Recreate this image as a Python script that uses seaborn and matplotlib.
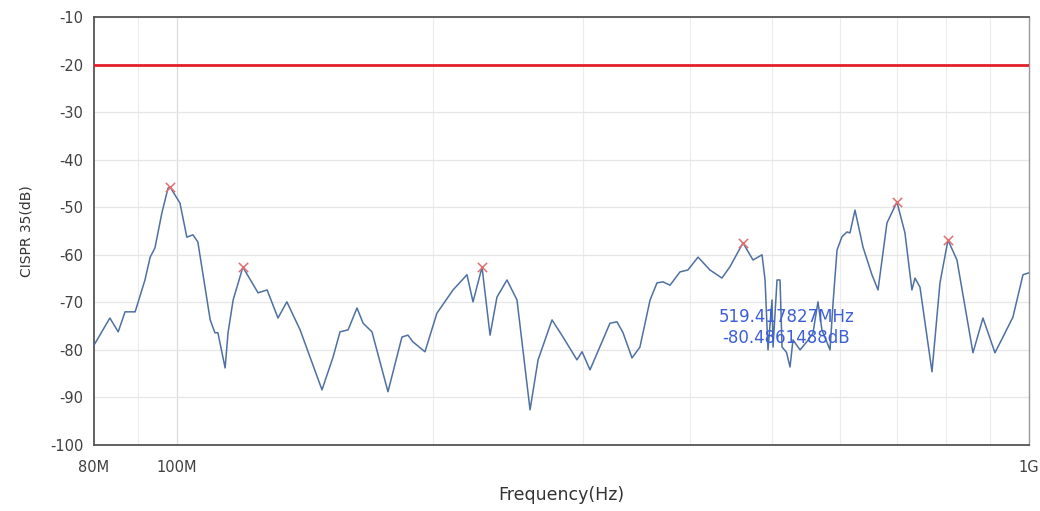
import matplotlib

matplotlib.use("Agg")
import matplotlib.pyplot as plt
import numpy as np
import pandas as pd
import seaborn as sns
from matplotlib.ticker import FixedLocator, NullFormatter

# ---- Data ----------------------------------------------------------------- #
freq_mhz = [
    80.0, 83.5, 85.4, 87.0, 89.4, 91.8, 93.1, 94.3, 96.1, 97.7, 98.2, 100.9,
    102.8, 104.5, 105.9, 109.5, 110.9, 111.8, 114.0, 114.9, 116.5, 119.6,
    124.6, 127.7, 131.5, 134.7, 139.6, 148.1, 152.6, 155.5, 158.9, 162.8,
    165.5, 169.5, 177.0, 183.8, 186.8, 189.3, 195.6, 202.0, 211.0, 219.1,
    222.7, 228.2, 233.2, 237.6, 244.1, 250.8, 259.8, 265.5, 275.7, 284.0,
    294.9, 299.0, 305.5, 322.4, 328.6, 334.0, 342.2, 349.6, 359.3, 366.1,
    372.1, 379.2, 389.6, 398.0, 409.0, 422.4, 436.3, 445.9, 461.8, 474.5,
    486.2, 490.2, 494.1, 499.5, 500.9, 506.3, 510.4, 513.2, 519.4, 524.4,
    528.6, 538.8, 550.4, 557.9, 565.5, 571.6, 584.2, 589.0, 595.4, 603.4,
    611.6, 616.6, 625.0, 638.7, 654.3, 665.1, 681.4, 700.0, 715.3, 728.9,
    735.0, 744.9, 769.5, 786.3, 803.5, 823.2, 859.6, 883.1, 912.2, 932.1,
    957.6, 983.9, 1000.0,
]
level_db = [
    -79.0, -73.3, -76.2, -72.0, -72.0, -65.3, -60.5, -58.6, -51.2, -46.0,
    -45.7, -49.1, -56.3, -55.8, -57.3, -73.7, -76.4, -76.4, -83.8, -76.4,
    -69.5, -62.6, -68.0, -67.4, -73.3, -69.9, -75.8, -88.4, -81.5, -76.2,
    -75.8, -71.2, -74.4, -76.2, -88.8, -77.3, -76.9, -78.3, -80.4, -72.3,
    -67.4, -64.2, -69.9, -62.6, -76.9, -68.9, -65.3, -69.5, -92.6, -82.1,
    -73.7, -77.3, -82.1, -80.4, -84.2, -74.4, -74.1, -76.4, -81.7, -79.4,
    -69.5, -65.9, -65.7, -66.4, -63.6, -63.2, -60.5, -63.2, -64.9, -62.5,
    -57.5, -61.1, -60.0, -65.3, -80.0, -69.5, -79.4, -65.3, -65.3, -79.4,
    -80.5, -83.6, -77.9, -80.0, -78.0, -76.5, -69.9, -75.8, -80.0, -70.2,
    -59.0, -56.2, -55.2, -55.4, -50.6, -58.4, -64.2, -67.4, -53.3, -48.9,
    -55.4, -67.4, -64.9, -66.8, -84.6, -65.9, -56.9, -61.1, -80.6, -73.3,
    -80.6, -77.3, -73.1, -64.2, -63.8,
]

peak_mhz = [98.2, 119.6, 228.2, 461.8, 700.0, 803.5]
peak_db = [-45.7, -62.6, -62.6, -57.5, -48.9, -56.9]

limit_db = -20
marker_mhz = 519.41782
marker_db = -80.4861488
marker_text = "519.417827MHz\n-80.4861488dB"

x_ticks_hz = [80e6, 100e6, 1e9]
x_tick_labels = ["80M", "100M", "1G"]
y_ticks = list(range(-100, 0, 10))

trace = pd.DataFrame({"freq": np.array(freq_mhz) * 1e6, "level": level_db})
peaks = pd.DataFrame({"freq": np.array(peak_mhz) * 1e6, "level": peak_db})

# ---- Plot ------------------------------------------------------------------ #
sns.set_theme(style="white")
plt.rcParams["font.family"] = ["DejaVu Sans"]

fig = plt.figure(figsize=(10.4, 5.11), dpi=100)
ax = fig.add_axes([0.0904, 0.1292, 0.8990, 0.8375])

ax.set_xscale("log")
ax.set_xlim(80e6, 1e9)
ax.set_ylim(-100, -10)

# grid: every 10 MHz below 100M, every 100 MHz above
minor_grid = [f * 1e6 for f in range(90, 100, 10)] + [f * 1e8 for f in range(2, 10)]
for xg in minor_grid:
    ax.axvline(xg, color="#ececec", lw=0.8, zorder=0)
ax.axvline(100e6, color="#dcdcdc", lw=0.9, zorder=0)
for yg in y_ticks:
    ax.axhline(yg, color="#e6e6e6", lw=0.9, zorder=0)

ax.axhline(limit_db, color="#e3202b", lw=2.0, zorder=3)

sns.lineplot(data=trace, x="freq", y="level", ax=ax, color="#4f70a3",
             lw=1.1, zorder=4)
sns.scatterplot(data=peaks, x="freq", y="level", ax=ax, marker="x",
                color="#e07070", s=45, linewidth=1.1, zorder=5)

ax.text(marker_mhz * 1e6, marker_db + 5.2, marker_text, color="#3c5fd8",
        fontsize=12, ha="center", va="center", linespacing=1.2, zorder=6)

ax.xaxis.set_major_locator(FixedLocator(x_ticks_hz))
ax.xaxis.set_minor_formatter(NullFormatter())
ax.xaxis.set_minor_locator(FixedLocator([]))
ax.set_xticks(x_ticks_hz)
ax.set_xticklabels(x_tick_labels)
ax.set_yticks(y_ticks)
ax.set_yticklabels([str(v) for v in y_ticks])

ax.tick_params(axis="both", which="major", direction="out", length=4,
               width=1, color="#444444", labelsize=10.5, labelcolor="#404040")
ax.tick_params(axis="x", pad=7)

for side in ["left", "bottom", "top"]:
    ax.spines[side].set_color("#555555")
    ax.spines[side].set_linewidth(1.3)
ax.spines["right"].set_color("#999999")
ax.spines["right"].set_linewidth(1.0)

ax.set_xlabel("Frequency(Hz)", fontsize=12.5, color="#333333", labelpad=8)
ax.set_ylabel("CISPR 35(dB)", fontsize=10, color="#333333", labelpad=12)

fig.savefig("out.png", dpi=100)
plt.close(fig)
